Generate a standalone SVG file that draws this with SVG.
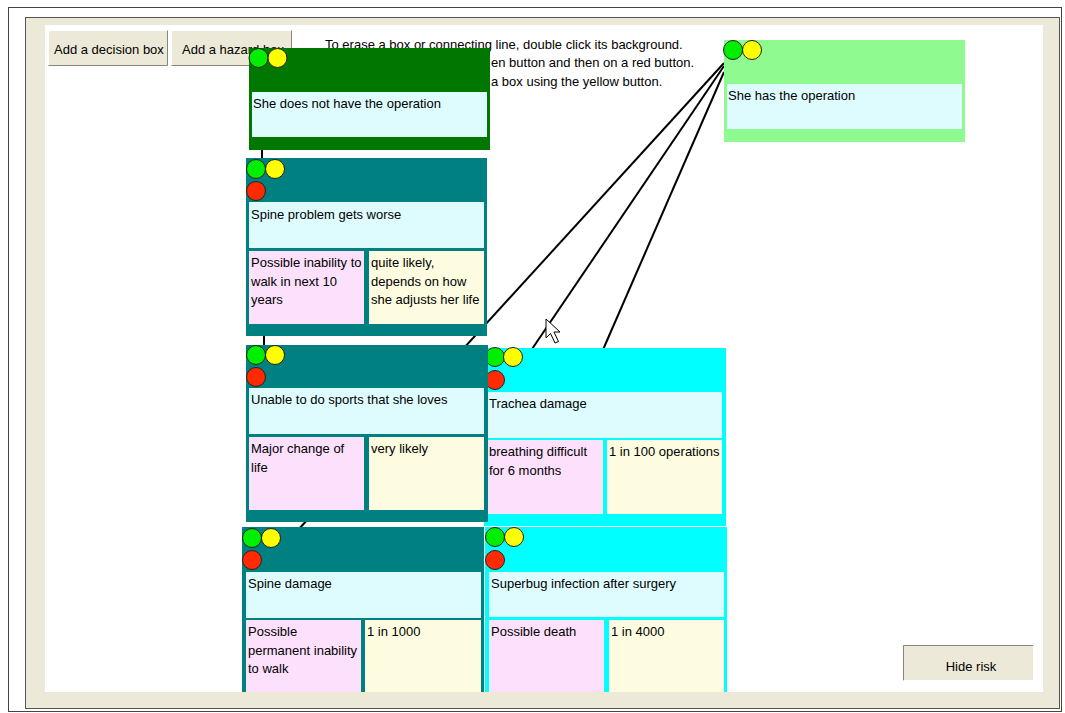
<svg xmlns="http://www.w3.org/2000/svg" width="1065" height="713" viewBox="0 0 1065 713">
<defs>
<clipPath id="area"><rect x="45" y="25" width="998" height="667"/></clipPath>
<style>
text{font-family:"Liberation Sans",Arial,sans-serif;font-size:13px;fill:#000}
.desc{fill:#DEFCFE}
.harm{fill:#FCE0FC}
.prob{fill:#FDFCE0}
.teal{fill:#008080}
.cyan{fill:#00FFFF}
.g{fill:#00EE00;stroke:#222;stroke-width:1}
.y{fill:#FFFF00;stroke:#222;stroke-width:1}
.r{fill:#FF2A00;stroke:#222;stroke-width:1}
.conn{stroke:#000;stroke-width:2;fill:none}
.btn{fill:#ECE9D8}
.hl{stroke:#FFFFFF;stroke-width:1;fill:none}
.sh{stroke:#8A877A;stroke-width:1;fill:none}
</style>
</defs>
<rect x="0" y="0" width="1065" height="713" fill="#FFFFFF"/>
<rect x="8.5" y="7.5" width="1053" height="704" fill="none" stroke="#444" stroke-width="1"/>
<rect x="25.5" y="17.5" width="1034" height="691" fill="#ECE9D8" stroke="#555" stroke-width="1"/>
<rect x="45" y="25" width="998" height="667" fill="#FFFFFF"/>

<g clip-path="url(#area)">
<g id="instructions">
<text x="325" y="49">To erase a box or connecting line, double click its background.</text>
<text x="491" y="67">en button and then on a red button.</text>
<text x="491" y="86">a box using the yellow button.</text>
</g>

<g id="btn-decision">
<rect class="btn" x="48" y="30" width="120" height="36"/>
<polyline class="hl" points="48.5,65.5 48.5,30.5 167.5,30.5"/>
<polyline class="sh" points="48.5,65.5 167.5,65.5 167.5,30.5"/>
<text x="54" y="54">Add a decision box</text>
</g>
<g id="btn-hazard">
<rect class="btn" x="171" y="30" width="121" height="36"/>
<polyline class="hl" points="171.5,65.5 171.5,30.5 291.5,30.5"/>
<polyline class="sh" points="171.5,65.5 291.5,65.5 291.5,30.5"/>
<text x="182" y="54">Add a hazard box</text>
</g>

<g id="connectors">
<line class="conn" x1="724" y1="63" x2="298" y2="530"/>
<line class="conn" x1="724" y1="66" x2="530" y2="352"/>
<line class="conn" x1="724" y1="72" x2="602" y2="352"/>
<line class="conn" x1="262" y1="148" x2="262" y2="160"/>
<line class="conn" x1="264" y1="334" x2="264" y2="347"/>
</g>

<g id="node-has-operation">
<rect x="724" y="40" width="241" height="102" fill="#8FFA8F"/>
<rect class="desc" x="727" y="84" width="235" height="45"/>
<text x="728" y="100">She has the operation</text>
<circle class="g" cx="733" cy="50" r="9.5"/>
<circle class="y" cx="752" cy="50" r="9.5"/>
</g>

<g id="node-no-operation">
<rect x="249" y="48" width="241" height="102" fill="#007700"/>
<rect class="desc" x="252" y="92" width="235" height="45"/>
<text x="253" y="108">She does not have the operation</text>
<circle class="g" cx="258.5" cy="58" r="9.5"/>
<circle class="y" cx="277.5" cy="58" r="9.5"/>
</g>

<g id="node-spine-worse">
<rect class="teal" x="246" y="158" width="241" height="178"/>
<rect class="desc" x="249" y="202" width="235" height="46"/>
<rect class="harm" x="249" y="251" width="115" height="73"/>
<rect class="prob" x="369" y="251" width="115" height="73"/>
<text x="251" y="219">Spine problem gets worse</text>
<text x="251" y="267">Possible inability to</text>
<text x="251" y="285.5">walk in next 10</text>
<text x="251" y="304">years</text>
<text x="371" y="267">quite likely,</text>
<text x="371" y="285.5">depends on how</text>
<text x="371" y="304">she adjusts her life</text>
<circle class="g" cx="256" cy="169" r="9.5"/>
<circle class="y" cx="275" cy="169" r="9.5"/>
<circle class="r" cx="256" cy="191" r="9.5"/>
</g>

<g id="node-trachea">
<rect class="cyan" x="484" y="348" width="242" height="178"/>
<rect class="desc" x="487" y="392" width="235" height="46"/>
<rect class="harm" x="487" y="440" width="116" height="74"/>
<rect class="prob" x="607" y="440" width="115" height="74"/>
<text x="489" y="408">Trachea damage</text>
<text x="489" y="456">breathing difficult</text>
<text x="489" y="474.5">for 6 months</text>
<text x="609" y="456">1 in 100 operations</text>
<circle class="g" cx="495" cy="357" r="9.5"/>
<circle class="y" cx="513" cy="357" r="9.5"/>
<circle class="r" cx="495" cy="380" r="9.5"/>
</g>

<g id="node-sports">
<rect class="teal" x="246" y="345" width="242" height="177"/>
<rect class="desc" x="249" y="388" width="235" height="46"/>
<rect class="harm" x="249" y="437" width="115" height="73"/>
<rect class="prob" x="369" y="437" width="115" height="73"/>
<text x="251" y="404">Unable to do sports that she loves</text>
<text x="251" y="453">Major change of</text>
<text x="251" y="471.5">life</text>
<text x="371" y="453">very likely</text>
<circle class="g" cx="256" cy="355" r="9.5"/>
<circle class="y" cx="275" cy="355" r="9.5"/>
<circle class="r" cx="256" cy="377" r="9.5"/>
</g>

<g id="node-spine-damage">
<rect class="teal" x="242" y="527" width="242" height="180"/>
<rect class="desc" x="246" y="572" width="235" height="46"/>
<rect class="harm" x="246" y="620" width="115" height="80"/>
<rect class="prob" x="365" y="620" width="116" height="80"/>
<text x="248" y="588">Spine damage</text>
<text x="248" y="636">Possible</text>
<text x="248" y="654.5">permanent inability</text>
<text x="248" y="673">to walk</text>
<text x="367" y="636">1 in 1000</text>
<circle class="g" cx="252" cy="538" r="9.5"/>
<circle class="y" cx="271" cy="538" r="9.5"/>
<circle class="r" cx="252" cy="560" r="9.5"/>
</g>

<g id="node-superbug">
<rect class="cyan" x="485" y="527" width="242" height="180"/>
<rect class="desc" x="489" y="572" width="235" height="45"/>
<rect class="harm" x="489" y="620" width="115" height="80"/>
<rect class="prob" x="609" y="620" width="115" height="80"/>
<text x="491" y="588">Superbug infection after surgery</text>
<text x="491" y="636">Possible death</text>
<text x="611" y="636">1 in 4000</text>
<circle class="g" cx="495" cy="537" r="9.5"/>
<circle class="y" cx="514" cy="537" r="9.5"/>
<circle class="r" cx="495" cy="560" r="9.5"/>
</g>

<g id="cursor">
<polygon points="546,319 546,338 550.5,333.5 555,343 558.5,341.5 554,332 560,332" fill="#FFFFFF" stroke="#000" stroke-width="1"/>
</g>

<g id="btn-hide-risk">
<rect class="btn" x="903" y="645" width="131" height="36"/>
<polyline class="sh" points="903.5,680.5 903.5,645.5 1033.5,645.5"/>
<polyline class="hl" points="903.5,680.5 1033.5,680.5 1033.5,645.5"/>
<text x="971" y="671" text-anchor="middle">Hide risk</text>
</g>
</g>
</svg>
